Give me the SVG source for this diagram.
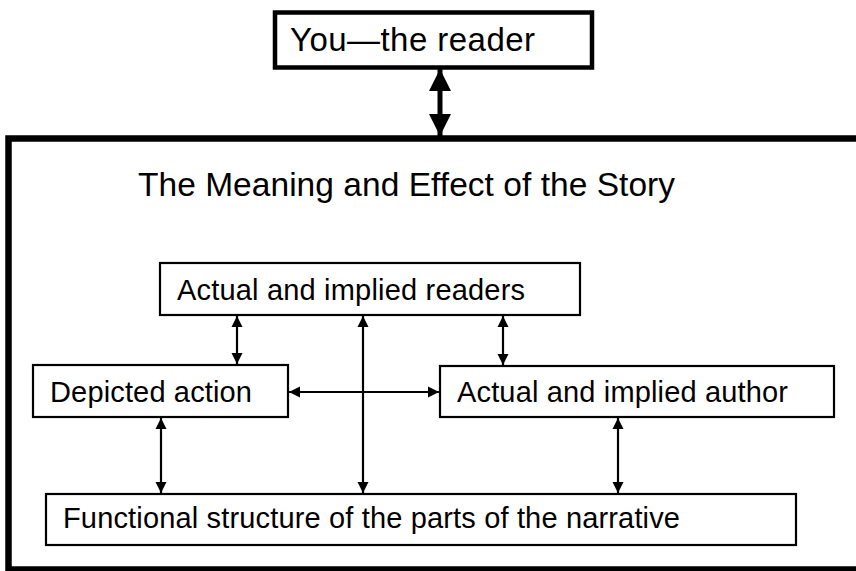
<svg xmlns="http://www.w3.org/2000/svg" width="856" height="571" viewBox="0 0 856 571">
<style>
text{font-family:"Liberation Sans",Arial,sans-serif;fill:#000}
.box{fill:#fff;stroke:#000;stroke-width:2.2}
.lbl{font-size:29px}
.thin{stroke:#000;stroke-width:2.2;fill:none;marker-start:url(#ah);marker-end:url(#ah)}
</style>
<defs>
<marker id="ah" viewBox="0 0 10 10" refX="10" refY="5" markerWidth="5" markerHeight="6.4" orient="auto-start-reverse" markerUnits="strokeWidth">
<path d="M0,0 L10,5 L0,10 Z" fill="#000"/>
</marker>
<marker id="bh" viewBox="0 0 10 10" refX="10" refY="5" markerWidth="4.4" markerHeight="5" orient="auto-start-reverse" markerUnits="strokeWidth">
<path d="M0,0 L10,5 L0,10 Z" fill="#000"/>
</marker>
</defs>
<rect width="856" height="571" fill="#fff"/>
<g id="connectors">
<line x1="440" y1="69" x2="440" y2="136" stroke="#000" stroke-width="5" marker-start="url(#bh)" marker-end="url(#bh)"/>
<line class="thin" x1="237" y1="316" x2="237" y2="364"/>
<line class="thin" x1="363" y1="316" x2="363" y2="493"/>
<line class="thin" x1="503" y1="316" x2="503" y2="365"/>
<line class="thin" x1="289" y1="392" x2="439" y2="392"/>
<line class="thin" x1="161" y1="418" x2="161" y2="493"/>
<line class="thin" x1="618" y1="418" x2="618" y2="493"/>
</g>
<g id="reader">
<rect x="275" y="12.5" width="317" height="55" fill="#fff" stroke="#000" stroke-width="4.5"/>
<text x="290" y="51" font-size="33" textLength="245" lengthAdjust="spacing">You—the reader</text>
</g>
<g id="story">
<rect x="8.5" y="138.5" width="852" height="431" fill="none" stroke="#000" stroke-width="6.5"/>
<text x="138" y="196" font-size="33.5" textLength="537" lengthAdjust="spacing">The Meaning and Effect of the Story</text>
</g>
<g id="readers">
<rect class="box" x="160" y="263" width="420" height="52"/>
<text class="lbl" x="177" y="300" textLength="348" lengthAdjust="spacing">Actual and implied readers</text>
</g>
<g id="action">
<rect class="box" x="33" y="365" width="255" height="52"/>
<text class="lbl" x="50" y="402" textLength="202" lengthAdjust="spacing">Depicted action</text>
</g>
<g id="author">
<rect class="box" x="440" y="366" width="394" height="51"/>
<text class="lbl" x="457" y="402" textLength="331" lengthAdjust="spacing">Actual and implied author</text>
</g>
<g id="structure">
<rect class="box" x="46" y="494" width="750" height="51"/>
<text class="lbl" x="63" y="528" textLength="617" lengthAdjust="spacing">Functional structure of the parts of the narrative</text>
</g>
</svg>
